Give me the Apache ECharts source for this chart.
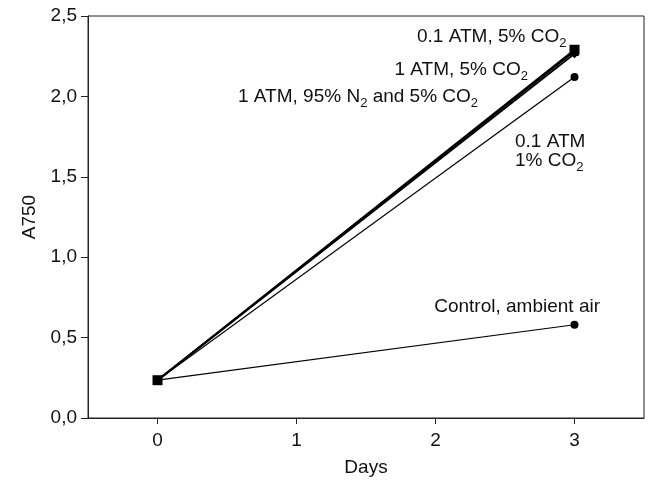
<!DOCTYPE html>
<html>
<head>
<meta charset="utf-8">
<script src="https://cdn.jsdelivr.net/npm/echarts@6/dist/echarts.min.js"></script>
<style>html,body{margin:0;padding:0;background:#fff}#c{width:648px;height:486px}</style>
</head>
<body>
<div id="c"></div>
<script>
var days = [0, 3];
var atm01co2_5 = [0.235, 2.29];
var atm1co2_5 = [0.235, 2.28];
var atm1n2co2 = [0.235, 2.265];
var atm01co2_1 = [0.235, 2.12];
var control = [0.235, 0.58];
var yTicks = ['0,0', '0,5', '1,0', '1,5', '2,0', '2,5'];

var FONT = 'Liberation Sans';
var TXT = '#111';
var FS = 19;

function pairs(vals) { return days.map(function (d, i) { return [d, vals[i]]; }); }

function mkSeries(name, vals, symbol, size, width) {
  return {
    name: name, type: 'line', data: pairs(vals), symbol: symbol, symbolSize: size,
    lineStyle: { color: '#000', width: width }, itemStyle: { color: '#000' },
    animation: false, z: 3
  };
}

var rich = {
  b: { fontSize: FS, lineHeight: 19, verticalAlign: 'top', fontFamily: FONT, fill: TXT },
  s: { fontSize: 13, lineHeight: 22, verticalAlign: 'bottom', fontFamily: FONT, fill: TXT }
};
function note(x, yc, text, align) {
  return {
    type: 'text', x: x, y: yc - 9.5, z: 10,
    style: { text: text, rich: rich, align: align || 'left', verticalAlign: 'top', font: FS + 'px ' + FONT, fill: TXT }
  };
}

var chart = echarts.init(document.getElementById('c'));
chart.setOption({
  backgroundColor: '#fff',
  animation: false,
  grid: { left: 88, right: 4, top: 16, bottom: 68, show: true, borderColor: '#222', borderWidth: 1 },
  xAxis: {
    type: 'value', min: -0.5, max: 3.5, interval: 0.5,
    name: 'Days', nameLocation: 'middle', nameGap: 40,
    nameTextStyle: { fontSize: FS, color: TXT, fontFamily: FONT },
    axisLine: { show: true, onZero: false, lineStyle: { color: '#222', width: 1 } },
    axisTick: { show: true, length: 6, lineStyle: { color: '#222' },
      customValues: [0, 1, 2, 3] },
    axisLabel: { fontSize: FS, color: TXT, fontFamily: FONT, margin: 13,
      customValues: [0, 1, 2, 3], formatter: function (v) { return String(v); } },
    splitLine: { show: false }
  },
  yAxis: {
    type: 'value', min: 0, max: 2.5, interval: 0.5,
    name: 'A750', nameLocation: 'middle', nameGap: 43,
    nameTextStyle: { fontSize: FS, color: TXT, fontFamily: FONT },
    axisLine: { show: true, onZero: false, lineStyle: { color: '#222', width: 1 } },
    axisTick: { show: true, length: 7, lineStyle: { color: '#222' } },
    axisLabel: { fontSize: FS, color: TXT, fontFamily: FONT, margin: 11,
      formatter: function (v) { return yTicks[Math.round(v / 0.5)]; } },
    splitLine: { show: false }
  },
  series: [
    mkSeries('Control, ambient air', control, 'circle', 8, 1.2),
    mkSeries('0.1 ATM 1% CO2', atm01co2_1, 'circle', 8, 1.2),
    mkSeries('1 ATM, 95% N2 and 5% CO2', atm1n2co2, 'diamond', 9, 1.8),
    mkSeries('1 ATM, 5% CO2', atm1co2_5, 'triangle', 9, 1.8),
    mkSeries('0.1 ATM, 5% CO2', atm01co2_5, 'rect', 10, 1.8)
  ],
  graphic: [
    note(417, 37, '{b|0.1 ATM, 5% CO}{s|2}'),
    note(528, 70, '{b|1 ATM, 5% CO}{s|2}', 'right'),
    note(238, 97, '{b|1 ATM, 95% N}{s|2}{b| and 5% CO}{s|2}'),
    note(515, 142, '{b|0.1 ATM}\n{b|1% CO}{s|2}'),
    note(600, 307, '{b|Control, ambient air}', 'right')
  ]
});
</script>
</body>
</html>
